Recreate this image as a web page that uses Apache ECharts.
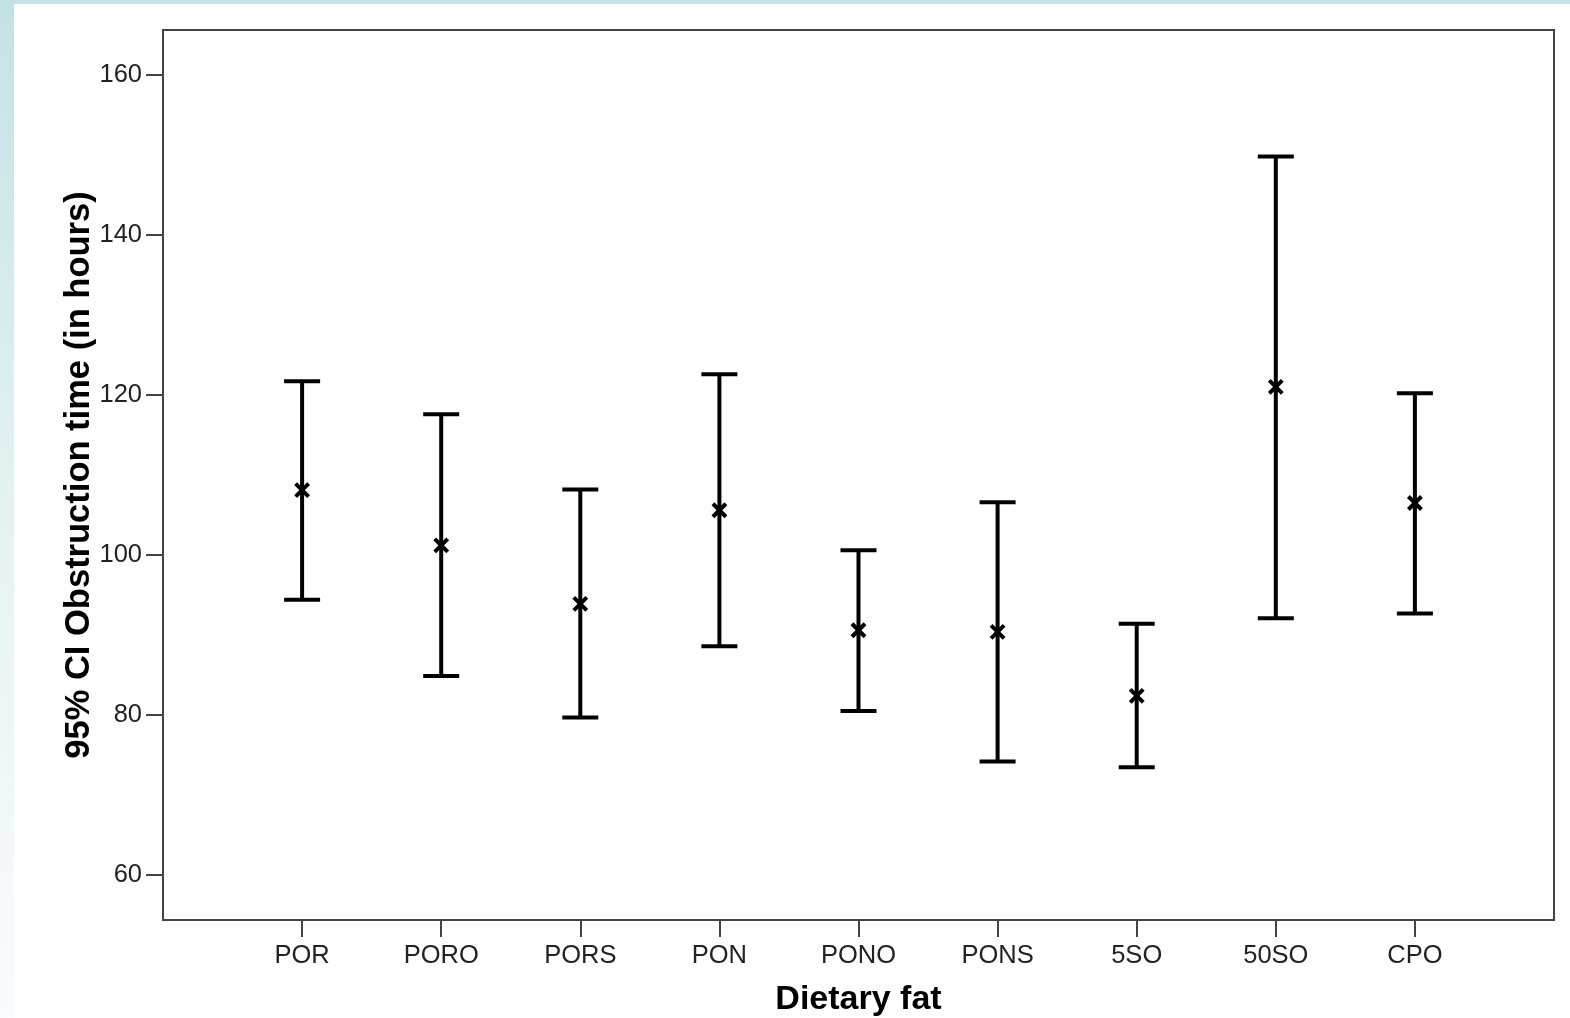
<!DOCTYPE html>
<html>
<head>
<meta charset="utf-8">
<script src="https://cdn.jsdelivr.net/npm/echarts@6/dist/echarts.min.js"></script>
<style>
html,body{margin:0;padding:0;background:#fff;}
#c{width:1570px;height:1018px;}
</style>
</head>
<body>
<div id="c"></div>
<script>
// Data
const categories = ['POR','PORO','PORS','PON','PONO','PONS','5SO','50SO','CPO'];
const lowerCI = [94.4, 84.9, 79.7, 88.6, 80.5, 74.2, 73.5, 92.1, 92.7];
const meanVal = [108.1, 101.2, 93.9, 105.6, 90.6, 90.4, 82.4, 121.0, 106.5];
const upperCI = [121.7, 117.6, 108.2, 122.6, 100.6, 106.6, 91.4, 149.8, 120.2];
const yTicks = [60, 80, 100, 120, 140, 160];
const catPositions = categories.map((c, i) => i + 1);

const chart = echarts.init(document.getElementById('c'), null, {renderer: 'canvas'});

const seriesData = categories.map((c, i) => [i + 1, lowerCI[i], meanVal[i], upperCI[i]]);

const option = {
  backgroundColor: '#ffffff',
  animation: false,
  graphic: [
    {type: 'rect', left: 0, top: 0, shape: {width: 1570, height: 4}, style: {fill: '#c3e2e5'}, z: -10},
    {type: 'rect', left: 0, top: 0, shape: {width: 14, height: 1018},
      style: {fill: new echarts.graphic.LinearGradient(0, 0, 0, 1, [
        {offset: 0, color: '#c3e2e5'},
        {offset: 0.5, color: '#e4f2f3'},
        {offset: 1, color: '#fafcfd'}
      ])}, z: -10}
  ],
  grid: {
    left: 163, top: 30, right: 16, bottom: 98,
    outerBoundsMode: 'none', containLabel: false,
    show: true, borderColor: '#444', borderWidth: 2, backgroundColor: '#fff'
  },
  xAxis: {
    type: 'value', min: 0, max: 10,
    name: 'Dietary fat', nameLocation: 'middle', nameGap: 63, nameMoveOverlap: false,
    nameTextStyle: {fontFamily: 'Liberation Sans', fontWeight: 'bold', fontSize: 34, color: '#000'},
    axisLine: {show: true, lineStyle: {color: '#444', width: 2}},
    axisTick: {show: true, customValues: catPositions, length: 17, lineStyle: {color: '#444', width: 2}},
    axisLabel: {
      show: true, customValues: catPositions, margin: 23,
      fontFamily: 'Liberation Sans', fontSize: 25.5, color: '#222',
      formatter: v => categories[Math.round(v) - 1] || ''
    },
    splitLine: {show: false}
  },
  yAxis: {
    type: 'value', min: 54.4, max: 165.6,
    name: '95% CI Obstruction time (in hours)', nameLocation: 'middle', nameGap: 66, nameRotate: 90, nameMoveOverlap: false,
    nameTextStyle: {fontFamily: 'Liberation Sans', fontWeight: 'bold', fontSize: 34.5, color: '#000'},
    axisLine: {show: true, lineStyle: {color: '#444', width: 2}},
    axisTick: {show: true, customValues: yTicks, length: 17, lineStyle: {color: '#444', width: 2}},
    axisLabel: {
      show: true, customValues: yTicks, margin: 21,
      fontFamily: 'Liberation Sans', fontSize: 25.5, color: '#222'
    },
    splitLine: {show: false}
  },
  series: [{
    type: 'custom',
    data: seriesData,
    encode: {x: 0, y: [1, 2, 3]},
    renderItem: function (params, api) {
      const x = api.value(0);
      const lo = api.coord([x, api.value(1)]);
      const mid = api.coord([x, api.value(2)]);
      const hi = api.coord([x, api.value(3)]);
      const cap = 18;
      const m = 6.5;
      const st = {stroke: '#000', lineWidth: 4};
      return {
        type: 'group',
        children: [
          {type: 'line', shape: {x1: lo[0], y1: lo[1], x2: hi[0], y2: hi[1]}, style: st},
          {type: 'line', shape: {x1: hi[0] - cap, y1: hi[1], x2: hi[0] + cap, y2: hi[1]}, style: st},
          {type: 'line', shape: {x1: lo[0] - cap, y1: lo[1], x2: lo[0] + cap, y2: lo[1]}, style: st},
          {type: 'line', shape: {x1: mid[0] - m, y1: mid[1] - m, x2: mid[0] + m, y2: mid[1] + m}, style: {stroke: '#000', lineWidth: 4}},
          {type: 'line', shape: {x1: mid[0] - m, y1: mid[1] + m, x2: mid[0] + m, y2: mid[1] - m}, style: {stroke: '#000', lineWidth: 4}}
        ]
      };
    }
  }]
};
chart.setOption(option);
</script>
</body>
</html>
